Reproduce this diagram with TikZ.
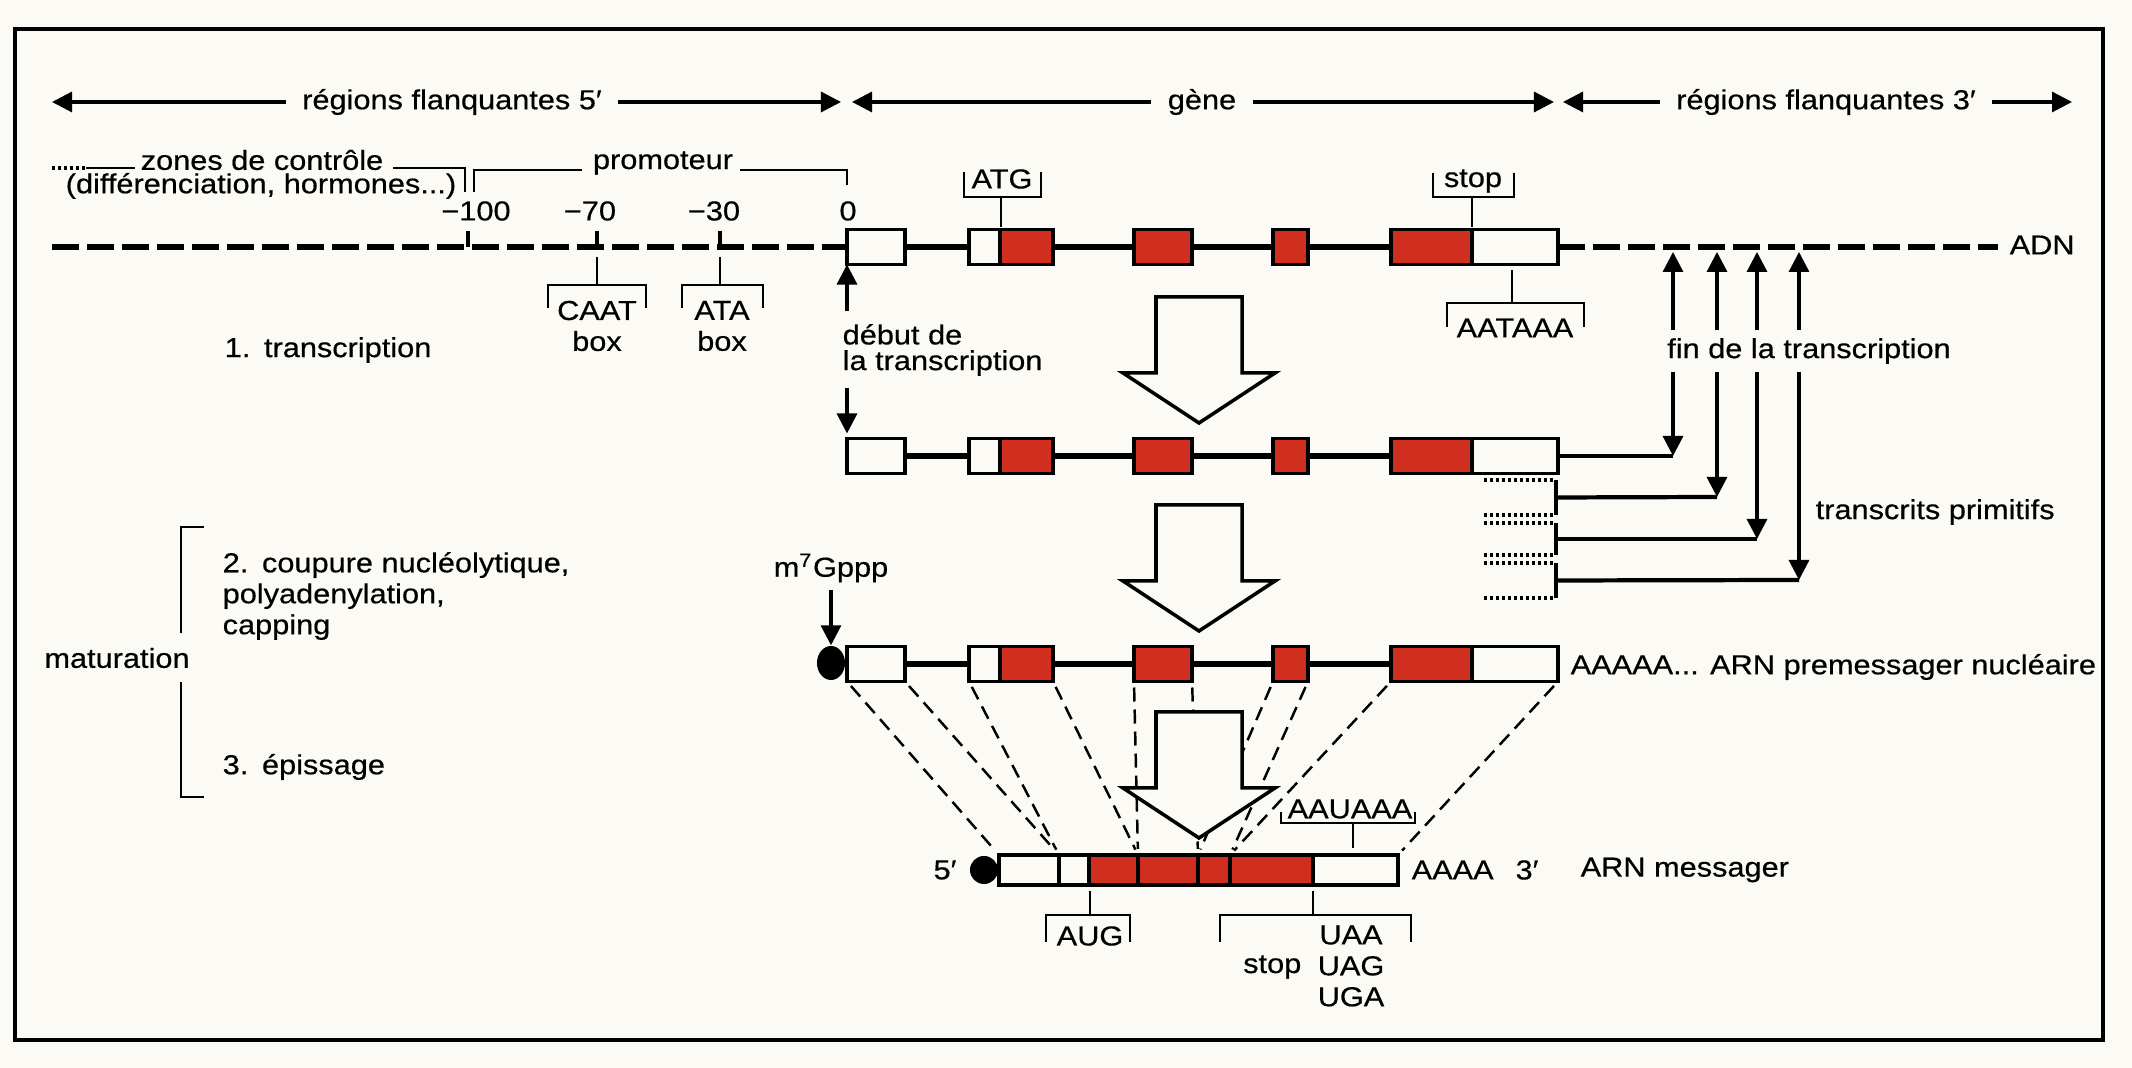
\documentclass[tikz,border=0pt]{standalone}
\usepackage{fontspec}
\setmainfont{Liberation Sans}[FakeStretch=1.12, FakeBold=0.5]
\usetikzlibrary{arrows.meta,shapes.geometric}
\definecolor{paper}{RGB}{251,250,244}
\definecolor{exonred}{RGB}{208,46,30}

\begin{document}
\begin{tikzpicture}[x=0.01cm, y=-0.01cm, font=\fontsize{7.8}{8.8}\selectfont,
        lab/.style={inner sep=0pt},
        arr/.style={-{Triangle[length=0.2cm, width=0.2cm]}, line width=0.9pt},
        dbl/.style={{Triangle[length=0.2cm, width=0.2cm]}-{Triangle[length=0.2cm, width=0.2cm]}, line width=0.9pt},
        brack/.style={line width=0.8pt},
        dna/.style={line width=1.6pt, dash pattern=on 0.27cm off 0.08cm},
        intron/.style={line width=1.5pt},
        endline/.style={line width=1.2pt},
        dotline/.style={line width=1pt, dash pattern=on 0.03cm off 0.03cm},
        seg/.style={draw, line width=1pt, inner sep=0pt, outer sep=0pt, minimum height=0.35cm, anchor=west},
        whitebox/.style={seg, fill=paper},
        redbox/.style={seg, fill=exonred},
        splice/.style={line width=0.7pt, dash pattern=on 0.14cm off 0.08cm, shorten <=0.06cm, shorten >=0.06cm},
        hollow/.style={line width=1pt, fill=paper}]
        \fill[paper] (0,0) rectangle (2132,1068);
        \useasboundingbox (0,0) rectangle (2132,1068);
        \draw[line width=1.2pt] (15,29) rectangle (2103,1040);

        % regions
        \node[lab, inner xsep=0.16cm] (flank5) at (452,102) {régions flanquantes 5′};
        \node[lab, inner xsep=0.16cm] (gene) at (1202,102) {gène};
        \node[lab, inner xsep=0.16cm] (flank3) at (1826,102) {régions flanquantes 3′};
        \coordinate (f5a) at (52,102);
        \coordinate (f5b) at (841,102);
        \coordinate (ga) at (852,102);
        \coordinate (gb) at (1554,102);
        \coordinate (f3a) at (1563,102);
        \coordinate (f3b) at (2072,102);
        \draw[arr] (flank5) -- (f5a);
        \draw[arr] (flank5) -- (f5b);
        \draw[arr] (gene) -- (ga);
        \draw[arr] (gene) -- (gb);
        \draw[arr] (flank3) -- (f3a);
        \draw[arr] (flank3) -- (f3b);

        % control zones and promoter
        \node[lab] (zones) at (262,160) {zones de contrôle};
        \node[lab] (diff) at (261,186) {(différenciation, hormones...)};
        \node[lab] (promo) at (663,163) {promoteur};
        \draw[dotline] (52,168) -- (86,168);
        \draw[brack] (86,168) -- (135,168);
        \draw[brack] (393,168) -- (465,168) -- (465,192);
        \draw[brack] (474,192) -- (474,170) -- (582,170);
        \draw[brack] (740,170) -- (847,170) -- (847,185);
        \node[lab] (n100) at (476,211) {−100};
        \node[lab] (n70) at (590,211) {−70};
        \node[lab] (n30) at (714,211) {−30};
        \node[lab] (n0) at (848,211) {0};

        % gene rows
        \foreach \r/\y in {dna/247, pre/456, nuc/664} {
            \node[whitebox, minimum width=0.58cm] (\r0) at (847,\y) {};
            \node[whitebox, minimum width=0.31cm] (\r1w) at (969,\y) {};
            \node[redbox, minimum width=0.53cm] (\r1) at (1000,\y) {};
            \node[redbox, minimum width=0.58cm] (\r2) at (1134,\y) {};
            \node[redbox, minimum width=0.35cm] (\r3) at (1273,\y) {};
            \node[redbox, minimum width=0.81cm] (\r4) at (1391,\y) {};
            \node[whitebox, minimum width=0.86cm] (\r4w) at (1472,\y) {};
            \draw[intron] (\r0) -- (\r1w) (\r1) -- (\r2) (\r2) -- (\r3) (\r3) -- (\r4);
        }
        \node[lab, anchor=west] (adn) at (2009,245) {ADN};
        \draw[dna] (52,247) -- (dna0.west);
        \draw[dna] (dna4w.east) -- (1998,247);
        \foreach \x in {468,597,720}
            \draw[line width=1pt] (\x,247) -- (\x,231);

        % boxes on the DNA
        \node[lab, align=center] (caat) at (597,326) {CAAT\\box};
        \node[lab, align=center] (ata) at (722,326) {ATA\\box};
        \draw[brack] (597,257) -- (597,285);
        \draw[brack] (548,308) -- (548,285) -- (646,285) -- (646,308);
        \draw[brack] (720,257) -- (720,285);
        \draw[brack] (682,308) -- (682,285) -- (763,285) -- (763,308);
        \node[lab] (atg) at (1002,179) {ATG};
        \draw[brack] (964,172) -- (964,197) -- (1041,197) -- (1041,172);
        \draw[brack] (1001,197) -- (1001,227);
        \node[lab] (stop) at (1473,181) {stop};
        \draw[brack] (1433,173) -- (1433,197) -- (1514,197) -- (1514,173);
        \draw[brack] (1472,197) -- (1472,227);
        \node[lab] (aataaa) at (1515,328) {AATAAA};
        \draw[brack] (1512,270) -- (1512,303);
        \draw[brack] (1447,327) -- (1447,303) -- (1584,303) -- (1584,327);

        % transcription
        \node[lab, anchor=west] (trans) at (224,350) {1.\enspace transcription};
        \node[lab, align=left, anchor=west, inner ysep=0.12cm] (debut) at (842,350) {début de\\[-1.5pt]la transcription};
        \draw[arr] (dna0.south west |- debut.north) -- (dna0.south west);
        \draw[arr, shorten >=0.05cm] (pre0.north west |- debut.south) -- (pre0.north west);
        \foreach \i/\x/\y in {1/1673/456, 2/1717/497, 3/1757/539, 4/1799/580} {
            \coordinate (top\i) at (\x,252);
            \coordinate (end\i) at (\x,\y);
            \draw[dbl] (top\i) -- (end\i);
        }
        \draw[endline] (pre4w) -- (end1);
        \foreach \i/\a/\b in {2/480/515, 3/523/555, 4/563/598} {
            \draw[dotline] (1484,\a) -- (1556,\a) (1484,\b) -- (1556,\b);
            \draw[line width=1pt] (1556,\a) -- (1556,\b);
            \draw[endline] (1556,{(\a+\b)/2}) -- (end\i);
        }
        \node[lab, fill=paper, inner xsep=0.03cm, inner ysep=0.08cm] (fin) at (1809,351) {fin de la transcription};
        \node[lab, anchor=west] (primitifs) at (1815,512) {transcrits primitifs};

        % maturation
        \node[lab, anchor=west, align=left] (step2) at (222,596) {2.\enspace coupure nucléolytique,\\polyadenylation,\\capping};
        \node[lab] (matur) at (117,658) {maturation};
        \node[lab, anchor=west] (step3) at (222,767) {3.\enspace épissage};
        \draw[brack] (204,527) -- (181,527) -- (181,633);
        \draw[brack] (181,682) -- (181,797) -- (204,797);
        \node[lab] (mgppp) at (831,568) {m\textsuperscript{7}Gppp};
        \node[ellipse, fill=black, inner sep=0pt, minimum width=0.28cm, minimum height=0.34cm] (cap) at (831,663) {};
        \node[whitebox, minimum width=0.58cm] at (847,664) {};
        \draw[arr, shorten <=0.07cm] (mgppp.south) -- (cap.north);
        \node[lab, anchor=west] (premess) at (1570,667) {AAAAA... ARN premessager nucléaire};

        % messenger
        \node[whitebox, minimum height=0.3cm, line width=1.1pt, minimum width=0.60cm] (m0) at (999,870) {};
        \node[whitebox, minimum height=0.3cm, line width=1.1pt, minimum width=0.30cm] (m1w) at (1059,870) {};
        \node[redbox, minimum height=0.3cm, line width=1.1pt, minimum width=0.49cm] (m1) at (1089,870) {};
        \node[redbox, minimum height=0.3cm, line width=1.1pt, minimum width=0.60cm] (m2) at (1138,870) {};
        \node[redbox, minimum height=0.3cm, line width=1.1pt, minimum width=0.32cm] (m3) at (1198,870) {};
        \node[redbox, minimum height=0.3cm, line width=1.1pt, minimum width=0.83cm] (m4) at (1230,870) {};
        \node[whitebox, minimum height=0.3cm, line width=1.1pt, minimum width=0.85cm] (m4w) at (1313,870) {};
        \node[circle, fill=black, inner sep=0pt, minimum size=0.28cm] (capm) at (984,870) {};
        \node[lab] (five) at (945,870) {5′};
        \node[lab, anchor=west] (polya) at (1411,870) {AAAA};
        \node[lab] (three) at (1527,870) {3′};
        \node[lab, anchor=west] (arnm) at (1580,870) {ARN messager};

        \draw[splice] (nuc0.south west) -- (m0.north west);
        \draw[splice] (nuc0.south east) -- (m0.north east);
        \draw[splice] (nuc1w.south west) -- (m1w.north west);
        \draw[splice] (nuc1.south east) -- (m1.north east);
        \draw[splice] (nuc2.south west) -- (m2.north west);
        \draw[splice] (nuc2.south east) -- (m2.north east);
        \draw[splice] (nuc3.south west) -- (m3.north west);
        \draw[splice] (nuc3.south east) -- (m3.north east);
        \draw[splice] (nuc4.south west) -- (m4.north west);
        \draw[splice] (nuc4w.south east) -- (m4w.north east);

        \node[lab] (aauaaa) at (1350,809) {AAUAAA};
        \draw[brack] (1281,812) -- (1281,823) -- (1415,823) -- (1415,812);
        \draw[brack] (1353,823) -- (1353,848);
        \node[lab] (aug) at (1090,936) {AUG};
        \draw[brack] (1090,891) -- (1090,915);
        \draw[brack] (1046,942) -- (1046,915) -- (1130,915) -- (1130,942);
        \node[lab, align=center] (codons) at (1351,966) {UAA\\UAG\\UGA};
        \node[lab, anchor=east] (stopm) at (1302,967) {stop};
        \draw[brack] (1313,891) -- (1313,915);
        \draw[brack] (1220,942) -- (1220,915) -- (1411,915) -- (1411,942);

        % big arrows
        \foreach \t in {297,505,712}
            \draw[hollow] (1156,\t) -- (1242,\t) -- (1242,\t+76) -- (1275,\t+76) -- (1199,\t+126)
                -- (1123,\t+76) -- (1156,\t+76) -- cycle;
    \end{tikzpicture}
\end{document}
